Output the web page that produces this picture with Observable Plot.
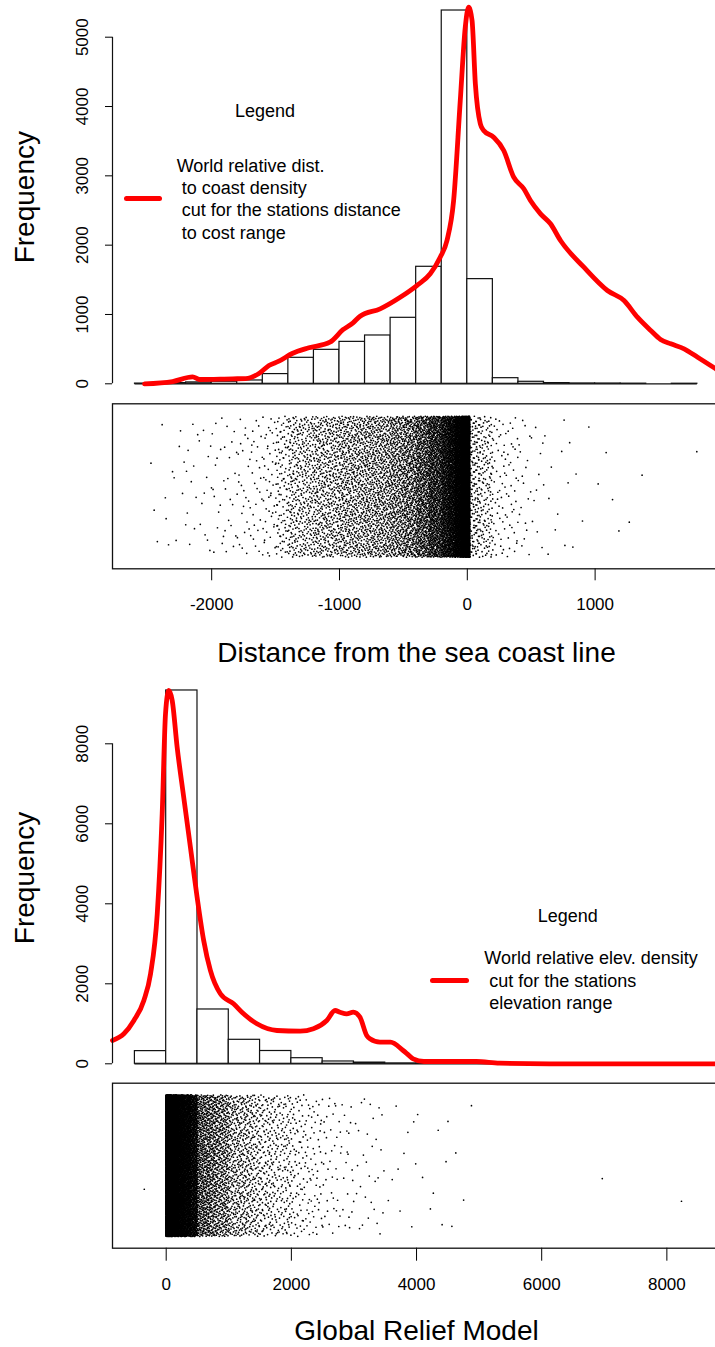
<!DOCTYPE html>
<html>
<head>
<meta charset="utf-8">
<script src="https://cdn.jsdelivr.net/npm/d3@7"></script>
<script src="https://cdn.jsdelivr.net/npm/@observablehq/plot@0.6"></script>
<style>
html, body { margin: 0; padding: 0; background: #fff; overflow: hidden; }
#wrap { position: relative; width: 715px; height: 1347px; overflow: hidden; background: #fff;
        font-family: "Liberation Sans", Arial, Helvetica, sans-serif; color: #000; }
.panel { position: absolute; left: 0; }
.lgtitle, .lgtext { position: absolute; font-size: 18px; line-height: 22.4px; white-space: pre; }
.lgtitle { text-align: center; width: 200px; }
.lgline { position: absolute; height: 5px; background: #ff0000; border-radius: 2.5px; }
</style>
</head>
<body>
<div id="wrap">
  <div id="p1" class="panel" style="top:0px"></div>
  <div id="p2" class="panel" style="top:395px"></div>
  <div id="p3" class="panel" style="top:680px"></div>
  <div id="p4" class="panel" style="top:1075px"></div>
</div>
<script>
// ================= TOP PANEL: distance from the sea coast line =================
const topEdges  = [-2600,-2400,-2200,-2000,-1800,-1600,-1400,-1200,-1000,-800,-600,-400,-200,0,200,400,600,800,1000,1200,1400,1600,1800];
const topCounts = [3,10,20,30,48,140,375,490,605,697,952,1688,5385,1510,81,29,10,5,4,2,0,1];

const topDensX = [-2525,-2306,-2149,-2094,-1835,-1735,-1630,-1552,-1474,-1370,-1240,-1075,-973,-894,-839,-682,-525,-395,-290,-212,-159,-107,-55,-16,10,37,63,102,128,206,285,363,442,494,573,651,729,912,1096,1226,1331,1435,1512,1592,1696,1802,1945];
const topDensY = [0,33,100,62,72,75,148,264,326,437,519,600,780,880,975,1082,1249,1418,1587,1826,2067,2644,4087,5144,5432,5245,4327,3750,3654,3557,3365,2980,2813,2644,2452,2308,2067,1682,1346,1201,961,769,640,577,505,384,215];

// station values shown in the strip chart, counted per interval
const topStripLo = [-2500,-2400,-2300,-2200,-2100,-2000,-1900,-1800,-1700,-1600,-1500,-1400,-1300,-1200,-1100,-1000,-900,-800,-700,-600,-500,-400,-300,-200,-150,-100,-50,0,20,100,200,300,400,500,600,800,1000,1200,1600];
const topStripHi = [-2400,-2300,-2200,-2100,-2000,-1900,-1800,-1700,-1600,-1500,-1400,-1300,-1200,-1100,-1000,-900,-800,-700,-600,-500,-400,-300,-200,-150,-100,-50,0,20,100,200,300,400,500,600,800,1000,1200,1400,1800];
const topStripN  = [3,5,7,10,12,15,18,24,28,44,100,180,195,240,250,300,305,340,357,430,522,700,988,650,850,1300,2585,1200,170,140,45,36,18,11,10,5,4,2,1];

const topYTicks = [0,1000,2000,3000,4000,5000];
const topXTicks = [-2000,-1000,0,1000];
const topXDomain = [-2776, 1981];
const topXLabel = "Distance from the sea coast line";
const topLegendTitle = "Legend";
const topLegendLines = ["World relative dist.", " to coast density", " cut for the stations distance", " to cost range"];

// ================= BOTTOM PANEL: global relief model =================
const botEdges  = [-500,0,500,1000,1500,2000,2500,3000,3500,4000,4500,5000,5500,6000,6500,7000,7500,8000,8500];
const botCounts = [317,9333,1358,600,320,140,58,30,10,7,5,0,0,0,1,0,0,1];

const botDensX = [-858,-676,-516,-357,-250,-143,-64,-11,41,96,175,280,387,494,599,706,866,1077,1237,1450,1769,2140,2352,2566,2698,2778,2884,2990,3096,3204,3256,3415,3584,3786,3851,3946,4117,4531,4956,5327,6124,8857];
const botDensY = [583,750,1083,1583,2250,3750,6250,8750,9333,9083,7915,6665,5415,4165,3083,2333,1750,1500,1250,1000,833,815,875,1083,1333,1290,1250,1290,1165,708,625,540,540,333,250,125,58,58,58,15,0,0];

const botStripLo = [-400,-5,0,100,200,300,400,500,600,700,800,900,1000,1100,1200,1300,1400,1500,1600,1700,1800,1900,2000,2100,2200,2300,2400,2500,2600,2700,2800,2900,3000,3500,4000,4500,6900,8200];
const botStripHi = [-300,0,100,200,300,400,500,600,700,800,900,1000,1100,1200,1300,1400,1500,1600,1700,1800,1900,2000,2100,2200,2300,2400,2500,2600,2700,2800,2900,3000,3500,4000,4500,5000,7000,8300];
const botStripN  = [1,316,3500,2200,1500,1200,933,330,300,270,240,218,140,130,120,110,100,75,68,60,55,62,36,32,28,24,20,14,13,11,10,10,30,10,7,5,1,1];

const botYTicks = [0,2000,4000,6000,8000];
const botXTicks = [0,2000,4000,6000,8000];
const botXDomain = [-858, 8857];
const botXLabel = "Global Relief Model";
const botLegendTitle = "Legend";
const botLegendLines = ["World relative elev. density", " cut for the stations", " elevation range"];

const yLabel = "Frequency";

// ================= helpers =================
const W = 730;
const FONT = '"Liberation Sans", Arial, Helvetica, sans-serif';
const svgStyle = {fontFamily: FONT, fontSize: "17px", maxWidth: "none", background: "transparent", overflow: "visible"};
const INK = "#111";
const RED = "#ff0000";

const bins = (edges, counts) => counts.map((c, i) => ({x1: edges[i], x2: edges[i + 1], count: c}));
const curvePts = (xs, ys) => xs.map((x, i) => ({x, y: ys[i]}));
// radical inverse (Halton low-discrepancy layout) used to spread each interval's stations inside it;
// y is only the strip-chart jitter position
function radInv(k, b) { let f = 1, r = 0; while (k > 0) { f /= b; r += f * (k % b); k = Math.floor(k / b); } return r; }
function strip(lo, hi, n) {
  const pts = [];
  for (let j = 0; j < n.length; j++) {
    const off = 1 + j * 1013;
    for (let i = 0; i < n[j]; i++) {
      const k = off + i;
      pts.push({x: lo[j] + (hi[j] - lo[j]) * radInv(k, 2), y: radInv(k, 3)});
    }
  }
  return pts;
}
const fmt = d => String(d);

function histPanel({edges, counts, densX, densY, yTicks, xDomain, marginTop, labelDy}) {
  return Plot.plot({
    width: W, height: 395,
    marginLeft: 112, marginRight: 10, marginTop, marginBottom: 11.7,
    style: svgStyle,
    x: {domain: xDomain, axis: null},
    y: {domain: [0, yTicks[yTicks.length - 1]], ticks: yTicks, tickSize: 7, tickRotate: -90,
        tickPadding: 17.5, tickFormat: fmt, label: null},
    marks: [
      Plot.ruleY([0], {x1: edges[0], x2: edges[edges.length - 1], stroke: INK, strokeWidth: 1.2}),
      Plot.rect(bins(edges, counts), {x1: "x1", x2: "x2", y1: () => 0, y2: "count",
        fill: "white", stroke: INK, strokeWidth: 1.2}),
      Plot.line(curvePts(densX, densY), {x: "x", y: "y", stroke: RED, strokeWidth: 4.8,
        curve: "monotone-x", strokeLinejoin: "round", strokeLinecap: "round"}),
      Plot.ruleX([xDomain[0]], {y1: 0, y2: yTicks[yTicks.length - 1], stroke: INK, strokeWidth: 1.2}),
      Plot.text([yLabel], {frameAnchor: "left", textAnchor: "middle", lineAnchor: "middle",
        rotate: -90, dx: -87, dy: labelDy, fontSize: 28})
    ]
  });
}

function stripPanel({lo, hi, n, xTicks, xDomain, height, marginTop, marginBottom, yDomain, tickSize, tickPadding, label, labelDy}) {
  return Plot.plot({
    width: W, height,
    marginLeft: 112, marginRight: 10, marginTop, marginBottom,
    style: svgStyle,
    x: {domain: xDomain, ticks: xTicks, tickSize, tickPadding, tickFormat: fmt, label: null},
    y: {domain: yDomain, axis: null},
    marks: [
      Plot.dot(strip(lo, hi, n), {x: "x", y: "y", r: 0.85, fill: "#000"}),
      Plot.frame({stroke: INK, strokeWidth: 1.3}),
      Plot.text([label], {frameAnchor: "bottom", textAnchor: "middle", lineAnchor: "middle",
        dy: labelDy, fontSize: 28})
    ]
  });
}

document.getElementById("p1").append(histPanel({
  edges: topEdges, counts: topCounts, densX: topDensX, densY: topDensY,
  yTicks: topYTicks, xDomain: topXDomain, marginTop: 36.7, labelDy: -13.3
}));
document.getElementById("p2").append(stripPanel({
  lo: topStripLo, hi: topStripHi, n: topStripN, xTicks: topXTicks, xDomain: topXDomain,
  height: 280, marginTop: 8.3, marginBottom: 106.7, yDomain: [-0.0823, 1.088],
  tickSize: 12, tickPadding: 16.7, label: topXLabel, labelDy: 84.7
}));
document.getElementById("p3").append(histPanel({
  edges: botEdges, counts: botCounts, densX: botDensX, densY: botDensY,
  yTicks: botYTicks, xDomain: botXDomain, marginTop: 63.3, labelDy: -25.8
}));
document.getElementById("p4").append(stripPanel({
  lo: botStripLo, hi: botStripHi, n: botStripN, xTicks: botXTicks, xDomain: botXDomain,
  height: 272, marginTop: 7.7, marginBottom: 99.3, yDomain: [-0.0826, 1.0819],
  tickSize: 13, tickPadding: 16.3, label: botXLabel, labelDy: 83.3
}));

// ================= legends (overlaid, as in the original) =================
function addLegend(title, lines, pos) {
  const wrap = document.getElementById("wrap");
  const t = document.createElement("div");
  t.className = "lgtitle";
  t.style.left = (pos.titleCx - 100) + "px";
  t.style.top = pos.titleTop + "px";
  t.textContent = title;
  wrap.append(t);
  const l = document.createElement("div");
  l.className = "lgline";
  l.style.left = pos.lineX + "px";
  l.style.width = pos.lineW + "px";
  l.style.top = pos.lineTop + "px";
  wrap.append(l);
  const tx = document.createElement("div");
  tx.className = "lgtext";
  tx.style.left = pos.textX + "px";
  tx.style.top = pos.textTop + "px";
  tx.style.lineHeight = pos.lh + "px";
  tx.textContent = lines.join("\n");
  wrap.append(tx);
}
addLegend(topLegendTitle, topLegendLines,
  {titleCx: 265, titleTop: 100, lineX: 124, lineW: 38, lineTop: 195.8, textX: 176.7, textTop: 154.5, lh: 22.4});
addLegend(botLegendTitle, botLegendLines,
  {titleCx: 567.7, titleTop: 904.5, lineX: 430, lineW: 39, lineTop: 977.8, textX: 484.3, textTop: 947.3, lh: 22.5});
</script>
</body>
</html>
